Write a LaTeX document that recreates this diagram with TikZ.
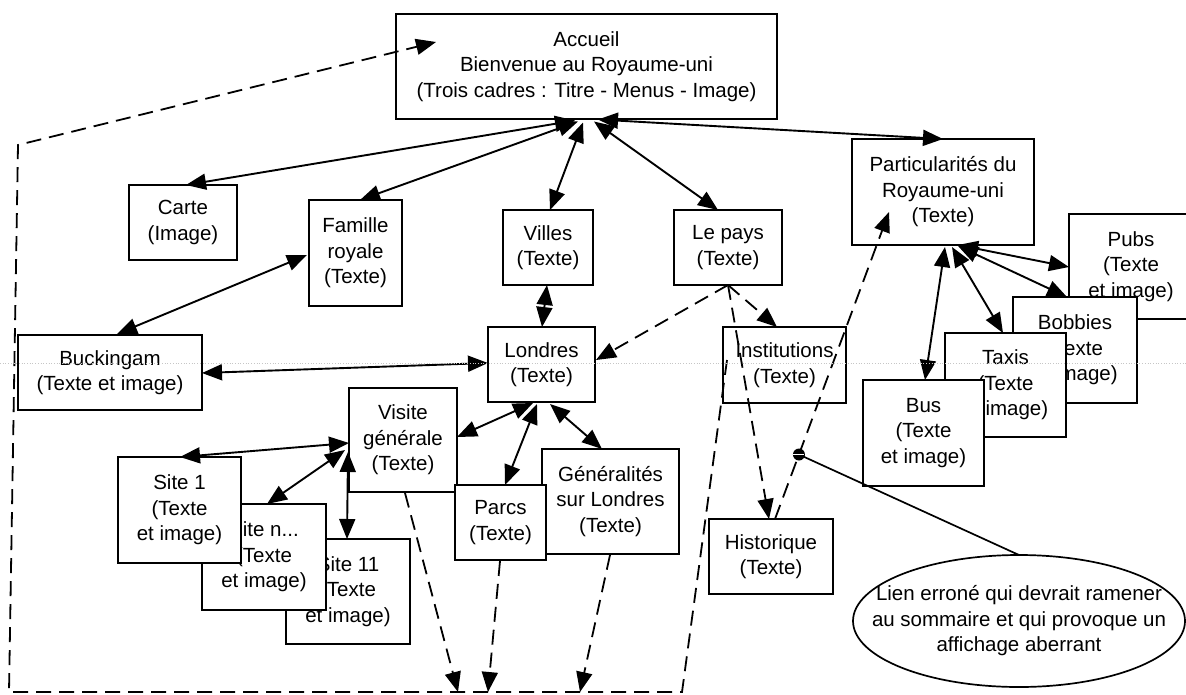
\documentclass[tikz,border=0pt]{standalone}
\usepackage{fontspec}
\setmainfont{Liberation Sans}
\usetikzlibrary{arrows.meta,calc}
\begin{document}
\begin{tikzpicture}[x=1pt,y=-1pt,
  font=\fontsize{20.5}{25.5}\selectfont,
  box/.style={draw, fill=white, line width=2pt, align=center, inner sep=0pt},
  link/.style={line width=1.9pt, {Triangle[length=20pt,width=16pt]}-{Triangle[length=20pt,width=16pt]}},
  dlink/.style={line width=1.8pt, dash pattern=on 15pt off 8pt, -{Triangle[length=20pt,width=16pt]}},
  artifact/.style={gray!45, dotted, line width=0.7pt},
]
\useasboundingbox[fill=white] (0,0) rectangle (1186,694);

% ---- boxes (back to front where they overlap) ----
\node[box, minimum width=381pt, minimum height=105pt] (acc) at (586.5,66.5) {Accueil\\Bienvenue au Royaume-uni\\(Trois cadres : Titre - Menus - Image)};
\node[box, minimum width=108pt, minimum height=75pt] (carte) at (183,222.5) {Carte\\(Image)};
\node[box, minimum width=93pt, minimum height=106pt] (fam) at (355.5,253) {Famille\\royale\\(Texte)};
\node[box, minimum width=90pt, minimum height=75pt] (villes) at (548,247.5) {Villes\\(Texte)};
\node[box, minimum width=108pt, minimum height=75pt] (pays) at (728,247.5) {Le pays\\(Texte)};
\node[box, minimum width=182pt, minimum height=106pt] (part) at (943,192) {Particularités du\\Royaume-uni\\(Texte)};
\node[box, minimum width=124pt, minimum height=105pt] (pubs) at (1131,266.5) {Pubs\\(Texte\\et image)};
\node[box, minimum width=124pt, minimum height=106pt] (bob) at (1075,350) {Bobbies\\(Texte\\et image)};
\node[box, minimum width=121pt, minimum height=104pt] (taxis) at (1005.5,385) {Taxis\\(Texte\\et image)};
\node[box, minimum width=121pt, minimum height=106pt] (bus) at (923.5,433) {Bus\\(Texte\\et image)};
\node[box, minimum width=184pt, minimum height=75pt] (buck) at (110,372.5) {Buckingam\\(Texte et image)};
\node[box, minimum width=107pt, minimum height=75pt] (lond) at (541.5,364.5) {Londres\\(Texte)};
\node[box, minimum width=123pt, minimum height=76pt] (inst) at (784.5,365) {Institutions\\(Texte)};
\node[box, minimum width=137pt, minimum height=105pt] (gen) at (610.5,501.5) {Généralités\\sur Londres\\(Texte)};
\node[box, minimum width=108pt, minimum height=104pt] (visite) at (403,440) {Visite\\générale\\(Texte)};
\node[box, minimum width=91pt, minimum height=75pt] (parcs) at (500.5,522.5) {Parcs\\(Texte)};
\node[box, minimum width=124pt, minimum height=75pt] (hist) at (771,556.5) {Historique\\(Texte)};
\node[box, minimum width=124pt, minimum height=105pt] (site11) at (348,591.5) {Site 11\\(Texte\\et image)};
\node[box, minimum width=124pt, minimum height=106pt] (siten) at (264,557) {Site n...\\(Texte\\et image)};
\node[box, minimum width=123pt, minimum height=106pt] (site1) at (179.5,510) {Site 1\\(Texte\\et image)};

% ---- callout ellipse ----
\node[align=center, inner sep=0pt] (note) at (1019,621) {Lien erroné qui devrait ramener\\au sommaire et qui provoque un\\affichage aberrant};
\draw[line width=1.7pt] (note.center) ellipse [x radius=166pt, y radius=66pt];
\coordinate (notetop) at ($(note.center)+(0,-66)$);

% ---- solid links ----
\draw[link] ($(acc.center)+(-11.5,54)$) -- ($(carte.center)+(3,-37.5)$);
\draw[link] ($(acc.center)+(-8.5,55)$) -- ($(fam.center)+(4.5,-53)$);
\draw[link] ($(acc.center)+(-3.5,56)$) -- ($(villes.center)+(2,-37.5)$);
\draw[link] ($(acc.center)+(7.5,55)$) -- ($(pays.center)+(-10,-37.5)$);
\draw[link] ($(acc.center)+(11.5,53)$) -- ($(part.center)+(0,-53)$);
\draw[link] ($(fam.center)+(-48.5,2)$) -- ($(buck.center)+(7,-38.5)$);
\draw[link] ($(buck.center)+(92,0.5)$) -- ($(lond.center)+(-53.5,-1.5)$);
\draw[link] ($(villes.center)+(-1,37.5)$) -- ($(lond.center)+(0.5,-37.5)$);
\draw[link] ($(lond.center)+(-8.5,38.5)$) -- ($(visite.center)+(54,-3)$);
\draw[link] ($(lond.center)+(-4.5,39.5)$) -- ($(parcs.center)+(4.5,-37.5)$);
\draw[link] ($(lond.center)+(8.5,39.5)$) -- ($(gen.center)+(-8.5,-52.5)$);
\draw[link] ($(visite.center)+(-54,3)$) -- ($(site1.center)+(0.5,-53)$);
\draw[link] ($(visite.center)+(-58,10)$) -- ($(siten.center)+(3,-53)$);
\draw[link] ($(visite.center)+(-55,12)$) -- ($(site11.center)+(-1,-52.5)$);
\draw[link] ($(part.center)+(15,53)$) -- ($(pubs.center)+(-62,0.5)$);
\draw[link] ($(part.center)+(15,54)$) -- ($(bob.center)+(-8,-53)$);
\draw[link] ($(part.center)+(9,55)$) -- ($(taxis.center)+(-2.5,-52)$);
\draw[link] ($(part.center)+(2,55)$) -- ($(bus.center)+(1.5,-53)$);

% ---- dashed links ----
\coordinate (pb) at ($(pays.center)+(0,37.5)$);
\draw[dlink] (pb) -- ($(lond.center)+(54.5,-4.5)$);
\draw[dlink] (pb) -- ($(inst.center)+(-7.5,-38)$);
\draw[dlink] (pb) -- ($(hist.center)+(-2,-37.5)$);
\coordinate (hs) at ($(hist.center)+(4,-37.5)$);
\coordinate (pe) at ($(part.center)+(-54,20)$);
\draw[dlink] (hs) -- (pe);

% return path to Accueil
\coordinate (bR) at (682,692);
\coordinate (bL) at (9,692);
\coordinate (tL) at (18,145);
\draw[dlink] ($(inst.center)+(-57.5,-5)$) -- (bR) -- (bL) -- (tL) -- ($(acc.center)+(-150.5,-24.5)$);
\coordinate (b1) at (458,692);
\coordinate (b2) at (488,692);
\coordinate (b3) at (580,692);
\draw[dlink] ($(visite.center)+(2,53)$) -- (b1);
\draw[dlink] ($(parcs.center)+(-0.5,38.5)$) -- (b2);
\draw[dlink] ($(gen.center)+(-0.5,53.5)$) -- (b3);

% ---- callout pointer ----
\coordinate (err) at ($(hs)!0.21!(pe)$);
\draw[line width=1.7pt] (err) -- (notetop);
\fill (err) circle[radius=6pt];
\draw[white, line width=1pt] ($(err)+(-5.5,0)$) -- ($(err)+(5.5,0)$);

% ---- faint scan guide ----
\draw[artifact] (0,363) -- (1186,363);
\end{tikzpicture}
\end{document}
